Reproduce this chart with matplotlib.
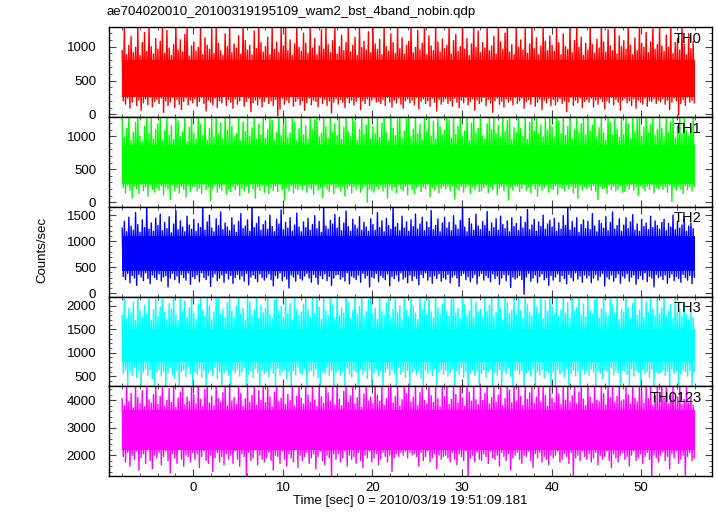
import numpy as np
import matplotlib
matplotlib.use('Agg')
import matplotlib.pyplot as plt
from matplotlib.ticker import MultipleLocator

plt.rcParams['font.family'] = ['Liberation Sans', 'DejaVu Sans']
plt.rcParams['font.size'] = 9.5

# light curve: per 0.25 s bin, peak (hi) and dip (lo)
t_start = -8.0
bin_width = 0.25

th0_hi = [940, 1300, 880, 1020, 1150, 910, 990, 1300, 870, 1060, 1210, 930, 1300, 1000, 890, 1120,
          960, 1080, 1300, 900, 1240, 980, 870, 1030, 1300, 950, 1100, 920, 1180, 1300, 860, 1010,
          1070, 930, 990, 1300, 880, 1130, 1020, 960, 1260, 900, 1300, 1050, 940, 870, 1190, 1000,
          1300, 910, 1040, 980, 1160, 890, 1300, 1090, 950, 1020, 880, 1230, 970, 1300, 1060, 920,
          1000, 1140, 880, 1300, 960, 1070, 910, 1280, 1010, 1300, 940, 1100, 870, 1040, 1300, 990,
          930, 1200, 1050, 900, 1300, 980, 1120, 880, 1010, 1250, 960, 1300, 1030, 910, 1090, 1300,
          890, 1000, 1170, 940, 1060, 1300, 920, 1020, 1140, 870, 1300, 990, 1080, 950, 1220, 910,
          1300, 1040, 960, 1110, 880, 1300, 1000, 930, 1190, 1060, 900, 1300, 970, 1130, 890, 1020,
          1080, 1300, 910, 990, 1240, 950, 1050, 1300, 880, 1160, 1010, 940, 1300, 1070, 920, 1110,
          970, 1020, 1300, 890, 1090, 1180, 930, 1000, 1300, 960, 1120, 870, 1040, 1300, 990, 1230,
          910, 1060, 980, 1300, 940, 1010, 1150, 890, 1300, 1070, 960, 1200, 1300, 920, 1030, 880,
          1300, 990, 1100, 950, 1270, 900, 1040, 1300, 970, 1130, 880, 1010, 1300, 1080, 940, 1160,
          1020, 930, 1300, 1060, 880, 1190, 1000, 960, 1300, 910, 1090, 1300, 990, 1140, 870, 1050,
          950, 1300, 1030, 900, 1110, 980, 1300, 1070, 920, 1250, 1010, 940, 1300, 890, 1160, 1000,
          1090, 960, 1300, 1020, 880, 1130, 940, 1300, 1050, 990, 1210, 910, 1070, 1300, 960, 1030,
          1300, 1010, 930, 1170, 990, 1300, 900, 1060, 1120, 950, 1300, 1040, 880, 1190, 970, 1080]
th0_lo = [200, 150, 240, 90, 180, 260, 130, 210, 60, 170, 230, 140, 250, 110, 190, 220,
          160, 240, 30, 200, 130, 180, 250, 100, 220, 150, 70, 190, 240, 140, 210, 170,
          230, 120, 190, 250, 160, 50, 210, 180, 140, 240, 100, 200, 170, 260, 130, 220,
          180, 90, 230, 150, 200, 260, 120, 190, 240, 40, 170, 210, 140, 230, 110, 190,
          250, 160, 200, 130, 220, -20, 80, 240, 150, 210, 170, 260, 120, 190, 230, 140,
          200, 60, 170, 240, 140, 210, 190, 110, 250, 160, 220, 130, 200, 20, 180, 230,
          150, 220, 180, 100, 240, 170, 210, 140, 190, 250, 70, 200, 160, 230, 130, 210,
          240, 180, 190, 160, 220, 130, 250, 180, 110, 210, 170, 240, 150, 90, 200, 230,
          170, 210, 140, 250, 80, 190, 230, 160, 200, 120, 240, 180, 50, 220, 150, 190,
          230, 160, 200, 120, 240, 180, 100, 210, 170, 250, 140, 190, 230, 60, 210, 160,
          190, 250, 130, 220, 170, 30, 200, 240, 150, 190, 110, 230, 180, 210, 140, 250,
          160, 200, 240, 90, 190, 220, 150, 260, 120, 180, 230, 70, 210, 170, 240, 130,
          220, 140, 190, 230, 160, 200, 40, 180, 250, 130, 210, 170, 240, 100, 190, 220,
          180, 240, 110, 210, 150, 230, 190, 80, 200, 170, 250, 140, 220, 180, 60, 210,
          240, 170, 200, 130, 230, 90, 210, 180, 150, 240, 120, 200, 190, 230, 160, 210,
          190, 230, 150, 210, 70, 180, 240, 200, -10, 160, 220, 130, 250, 180, 210, 170]

th1_hi = [1300, 980, 1120, 1300, 940, 1060, 1210, 1300, 1000, 920, 1150, 1300, 1040, 1270, 960, 1100,
          1190, 1300, 930, 1080, 1300, 1010, 1160, 950, 1300, 1230, 990, 1070, 1300, 920, 1140, 1300,
          1050, 960, 1300, 1180, 1010, 1300, 940, 1120, 1260, 980, 1300, 1030, 1200, 960, 1300, 1090,
          1300, 1150, 990, 1040, 1300, 930, 1220, 1070, 1300, 1000, 1130, 1300, 950, 1180, 1020, 1300,
          970, 1100, 1300, 1240, 940, 1060, 1300, 1010, 1170, 1300, 980, 1050, 1300, 1210, 930, 1120,
          1300, 1020, 1160, 960, 1300, 1090, 1250, 1300, 990, 1040, 1300, 1140, 970, 1300, 1060, 1190,
          1010, 1300, 950, 1130, 1300, 1070, 990, 1300, 1220, 940, 1100, 1300, 1030, 1170, 1300, 960,
          1150, 1040, 1300, 980, 1200, 1300, 1060, 930, 1300, 1120, 1010, 1260, 1300, 970, 1080, 1300,
          1300, 990, 1110, 1300, 1040, 1180, 950, 1300, 1070, 1300, 1000, 1230, 960, 1300, 1140, 1020,
          1090, 1300, 1250, 970, 1300, 1030, 1150, 1300, 990, 1080, 1300, 940, 1200, 1300, 1050, 1120,
          1300, 1010, 960, 1190, 1300, 1100, 1300, 1040, 1160, 980, 1300, 1070, 1240, 1300, 950, 1130,
          1060, 1300, 1120, 1000, 1300, 950, 1210, 1300, 1080, 1300, 1030, 1170, 990, 1300, 1090, 1300,
          1140, 980, 1300, 1230, 1040, 1300, 1010, 1150, 1300, 960, 1100, 1300, 1060, 1190, 1300, 1020,
          1300, 1080, 1170, 1300, 990, 1130, 1300, 1050, 940, 1300, 1210, 1020, 1300, 1110, 980, 1300,
          1030, 1300, 1190, 960, 1300, 1070, 1260, 1300, 1000, 1140, 1300, 1050, 1180, 1300, 1010, 1100,
          1300, 1120, 990, 1300, 1060, 1220, 1300, 970, 1150, 1300, 1040, 1300, 1090, 1010, 1170, 1300]
th1_lo = [220, 140, 260, 180, 60, 240, 200, 130, 270, 170, 230, 90, 250, 190, 150, 210,
          180, 250, 110, 230, 200, 40, 260, 170, 220, 140, 240, 190, 80, 250, 160, 230,
          240, 170, 210, 130, 270, 190, 230, 20, 200, 250, 150, 220, 180, 260, 120, 200,
          160, 230, 190, 250, 100, 210, 170, 240, 140, 270, 200, 60, 230, 180, 250, 150,
          250, 130, 220, 180, 240, 160, 270, 190, 30, 220, 170, 250, 140, 210, 190, 240,
          190, 260, 150, 230, 200, 120, 250, 180, 220, 70, 240, 200, 160, 260, 130, 220,
          230, 170, 240, 90, 210, 250, 140, 230, 190, 260, 150, 210, 240, 0, 200, 170,
          150, 240, 200, 260, 170, 220, 60, 250, 180, 230, 140, 260, 200, 170, 240, 110,
          260, 190, 130, 220, 250, 160, 230, 200, 270, 80, 220, 180, 250, 140, 210, 240,
          200, 240, 170, 250, 50, 210, 180, 240, 150, 220, 260, 130, 230, 190, 250, 160,
          170, 220, 250, 140, 230, 190, 270, 110, 210, 240, 170, 250, 30, 220, 180, 240,
          240, 160, 210, 260, 180, 230, 140, 250, 200, 90, 240, 180, 220, 260, 150, 210,
          190, 250, 120, 230, 210, 170, 260, 200, 240, 140, 220, 60, 250, 180, 230, 200,
          230, 180, 250, 160, 40, 240, 200, 220, 130, 260, 190, 240, 170, 210, 250, 150,
          160, 240, 200, 270, 180, 230, 100, 250, 210, 170, 240, 190, 260, 140, 220, 200,
          250, 190, 230, 150, 260, 10, 220, 180, 240, 200, 130, 250, 190, 230, 170, 240]

th2_hi = [1250, 1380, 1180, 1460, 1290, 1210, 1550, 1320, 1170, 1410, 1260, 1680, 1230, 1350, 1190, 1440,
          1300, 1520, 1200, 1360, 1240, 1470, 1160, 1330, 1590, 1220, 1390, 1270, 1180, 1480, 1310, 1230,
          1420, 1190, 1340, 1260, 1680, 1210, 1370, 1500, 1250, 1180, 1430, 1300, 1560, 1220, 1350, 1270,
          1200, 1450, 1310, 1170, 1380, 1530, 1240, 1290, 1410, 1190, 1680, 1260, 1340, 1470, 1210, 1320,
          1390, 1230, 1500, 1280, 1180, 1420, 1330, 1600, 1220, 1360, 1250, 1450, 1190, 1310, 1540, 1270,
          1180, 1370, 1260, 1440, 1210, 1320, 1490, 1240, 1380, 1170, 1680, 1290, 1230, 1400, 1330, 1510,
          1250, 1460, 1200, 1350, 1580, 1280, 1190, 1420, 1310, 1240, 1470, 1210, 1360, 1270, 1190, 1430,
          1320, 1210, 1550, 1260, 1390, 1180, 1440, 1300, 1230, 1680, 1270, 1340, 1200, 1480, 1250, 1370,
          1190, 1410, 1280, 1520, 1230, 1330, 1460, 1200, 1370, 1260, 1590, 1220, 1300, 1430, 1180, 1350,
          1460, 1250, 1360, 1200, 1490, 1310, 1230, 1400, 1680, 1270, 1180, 1440, 1330, 1210, 1520, 1290,
          1220, 1380, 1300, 1570, 1190, 1350, 1260, 1430, 1210, 1480, 1320, 1240, 1390, 1180, 1450, 1280,
          1340, 1200, 1470, 1250, 1360, 1610, 1220, 1310, 1420, 1190, 1370, 1280, 1500, 1230, 1330, 1400,
          1270, 1440, 1190, 1350, 1230, 1490, 1300, 1680, 1210, 1380, 1260, 1450, 1170, 1320, 1410, 1240,
          1380, 1220, 1530, 1290, 1180, 1400, 1340, 1250, 1470, 1200, 1360, 1560, 1230, 1300, 1430, 1190,
          1310, 1450, 1240, 1370, 1510, 1210, 1330, 1190, 1420, 1280, 1350, 1220, 1480, 1260, 1390, 1300,
          1230, 1360, 1420, 1200, 1340, 1270, 1500, 1220, 1380, 1250, 1310, 1450, 1190, 1290, 1350, 1240]
th2_lo = [320, 260, 380, 200, 340, 290, 150, 360, 310, 240, 390, 280, 180, 350, 300, 260,
          370, 230, 310, 340, 120, 290, 380, 260, 330, 200, 360, 300, 250, 390, 170, 320,
          280, 350, 220, 390, 300, 260, 340, 130, 310, 370, 240, 290, 350, 210, 380, 270,
          340, 190, 300, 360, 270, 330, 230, 380, 160, 310, 350, 280, 220, 370, 300, 250,
          300, 370, 260, 140, 340, 290, 390, 240, 320, 270, 100, 350, 310, 230, 360, 280,
          250, 330, 380, 290, 210, 360, 300, 170, 340, 280, 370, 240, 320, 150, 290, 350,
          360, 270, 310, 230, 390, 180, 330, 300, 260, 350, 210, 380, 290, 340, 120, 310,
          290, 380, 220, 340, 300, 260, 370, 140, 320, 280, 350, 230, 390, 270, 310, 200,
          350, 240, 330, 280, 160, 360, 300, 390, 250, 320, 190, 340, 280, 370, 230, 300,
          270, 360, 200, 310, 350, 290, 130, 340, 380, 260, 320, 220, 300, 360, 180, 330,
          380, 250, 340, 300, 220, 370, 280, 330, 170, 290, 360, 240, 350, 110, 310, 270,
          300, 340, 260, -20, 310, 380, 230, 290, 350, 200, 320, 370, 260, 300, 150, 340,
          250, 310, 370, 220, 340, 280, 180, 360, 300, 240, 390, 270, 330, 210, 350, 290,
          340, 200, 290, 360, 250, 320, 380, 140, 310, 270, 350, 230, 300, 370, 190, 330,
          290, 370, 230, 310, 350, 170, 280, 340, 260, 390, 220, 320, 290, 120, 360, 300,
          330, 260, 350, 190, 300, 370, 240, 320, 280, 210, 360, 300, 250, 340, 180, 310]

th3_hi = [1800, 2250, 1720, 1950, 1850, 2080, 1690, 2250, 1900, 1760, 2010, 1830, 2250, 1700, 1920, 2140,
          1780, 1980, 2250, 1860, 1710, 2050, 1940, 2250, 1820, 1680, 2250, 1890, 2100, 1750, 1960, 2250,
          1840, 1720, 2030, 2250, 1900, 1770, 2250, 1990, 1700, 1870, 2160, 2250, 1810, 1930, 1740, 2070,
          2250, 1880, 1760, 2000, 2250, 1830, 1950, 1690, 2250, 2090, 1800, 1910, 2250, 1730, 2020, 1860,
          1950, 2250, 1810, 1730, 2120, 2250, 1880, 1990, 1760, 2250, 1840, 2050, 1700, 2250, 1920, 1790,
          1870, 2040, 2250, 1920, 1750, 2250, 1830, 2180, 1970, 1710, 2250, 1890, 1800, 2250, 2010, 1740,
          2250, 1790, 1960, 1850, 2250, 2070, 1730, 1900, 2250, 1820, 1990, 2250, 1760, 1880, 2130, 2250,
          1830, 1950, 1720, 2250, 1890, 1800, 2060, 2250, 1740, 1930, 2250, 1850, 2000, 1700, 2250, 1910,
          1760, 2250, 1990, 1840, 1710, 2250, 1920, 2100, 1800, 2250, 1870, 1750, 2250, 1960, 1820, 2040,
          2250, 1880, 1780, 2150, 2250, 1850, 1940, 1720, 2250, 2020, 1800, 1900, 2250, 1760, 2080, 1870,
          1930, 1750, 2250, 1890, 2010, 2250, 1780, 1860, 2250, 1950, 1700, 2250, 2060, 1830, 1910, 2250,
          1810, 2250, 1900, 1740, 2250, 2030, 1860, 1790, 2250, 1970, 1840, 2250, 1720, 2110, 1880, 2250,
          1990, 1830, 2250, 1770, 1920, 2250, 1850, 2070, 1730, 2250, 1880, 1960, 2250, 1800, 2040, 1760,
          2250, 1900, 1820, 2120, 2250, 1750, 1940, 2250, 1860, 1790, 2250, 2000, 1840, 2250, 1710, 1930,
          1870, 2250, 1960, 1730, 2050, 2250, 1800, 1910, 2250, 1760, 2090, 1850, 2250, 1940, 1790, 2250,
          1830, 1960, 2250, 1780, 1890, 2030, 1740, 2250, 1860, 1920, 1770, 2060, 1810, 1700, 1880, 1750]
th3_lo = [560, 640, 280, 600, 520, 690, 470, 620, 280, 580, 660, 510, 630, 440, 280, 590,
          650, 500, 610, 280, 570, 680, 530, 460, 620, 280, 590, 640, 490, 700, 550, 280,
          600, 540, 660, 480, 610, 280, 570, 640, 510, 690, 450, 600, 280, 560, 630, 520,
          280, 620, 570, 650, 500, 590, 680, 280, 540, 610, 470, 660, 580, 280, 630, 550,
          610, 480, 640, 560, 280, 670, 520, 600, 650, 440, 590, 280, 620, 530, 690, 570,
          540, 660, 280, 590, 620, 500, 640, 460, 280, 600, 560, 680, 510, 630, 280, 580,
          630, 520, 600, 280, 670, 550, 480, 620, 590, 280, 650, 530, 610, 450, 640, 280,
          570, 640, 500, 610, 280, 580, 660, 520, 630, 560, 280, 690, 540, 600, 470, 620,
          280, 590, 650, 530, 600, 460, 280, 640, 570, 620, 510, 660, 280, 580, 630, 540,
          620, 500, 580, 660, 280, 610, 540, 690, 470, 600, 280, 570, 640, 520, 610, 280,
          560, 630, 470, 600, 650, 280, 580, 520, 640, 280, 600, 550, 680, 490, 280, 620,
          640, 540, 610, 280, 570, 620, 500, 660, 280, 590, 530, 640, 460, 610, 570, 280,
          590, 280, 640, 550, 600, 480, 670, 280, 560, 630, 510, 600, 280, 650, 540, 610,
          520, 650, 580, 280, 620, 560, 440, 640, 600, 280, 680, 530, 610, 570, 280, 630,
          610, 540, 280, 660, 500, 620, 580, 280, 640, 550, 600, 470, 650, 280, 590, 560,
          580, 630, 520, 600, 280, 650, 560, 610, 280, 540, 640, 590, 500, 620, 280, 600]

th0123_hi = [4050, 3800, 4550, 3950, 4250, 3720, 4550, 4100, 3880, 4350, 3760, 4550, 4020, 3900, 4200, 4550,
             3850, 4150, 4550, 3780, 4000, 4420, 3920, 4550, 3740, 4080, 4300, 4550, 3830, 4120, 3960, 4550,
             4200, 3870, 4550, 4030, 3760, 4400, 4550, 3900, 4150, 3800, 4550, 4060, 3930, 4280, 4550, 3790,
             4550, 3980, 4100, 3850, 4550, 4250, 3780, 4050, 4550, 3920, 4180, 4550, 3820, 4350, 4000, 4550,
             3910, 4550, 4120, 3760, 4300, 4550, 3950, 4070, 4550, 3840, 4220, 3990, 4550, 3780, 4150, 4550,
             4080, 3860, 4550, 4200, 3930, 4550, 4010, 3770, 4550, 4130, 3890, 4550, 4260, 3950, 4550, 3830,
             4550, 4040, 3800, 4330, 4550, 3920, 4160, 4550, 3860, 4090, 4550, 3750, 4230, 4550, 3970, 4110,
             3880, 4550, 4190, 3960, 4550, 3820, 4060, 4450, 4550, 3900, 4140, 4550, 3790, 4020, 4550, 4240,
             4550, 3940, 4110, 4550, 3810, 4280, 4550, 4000, 3870, 4550, 4170, 3920, 4550, 4050, 3760, 4550,
             4130, 4550, 3850, 4030, 4550, 4210, 3900, 4550, 4080, 3780, 4550, 4300, 3960, 4550, 4020, 3840,
             4550, 3990, 4250, 4550, 3870, 4100, 4550, 3930, 4190, 4550, 3800, 4060, 4550, 4370, 3910, 4550,
             3960, 4550, 4140, 3820, 4550, 4030, 4270, 4550, 3890, 4110, 4550, 3940, 4550, 4180, 3780, 4550,
             4070, 3910, 4550, 4230, 3850, 4550, 4000, 4550, 3930, 4160, 4550, 3870, 4300, 4550, 4040, 3800,
             4550, 4120, 3880, 4550, 4010, 3950, 4550, 4240, 3830, 4550, 4090, 4550, 3920, 4150, 4550, 3970,
             4020, 4550, 4200, 3860, 4550, 4080, 3940, 4550, 4310, 3890, 4550, 4050, 4550, 3810, 4170, 4550,
             3930, 4550, 4100, 4550, 3870, 4260, 4550, 3990, 4120, 4550, 3850, 4030, 4550, 3900, 4080, 3820]
th0123_lo = [1950, 1750, 2100, 1600, 2000, 1850, 2150, 1450, 1900, 2050, 1700, 2200, 1800, 1500, 2000, 1900,
             2100, 1650, 1950, 2150, 1800, 1350, 2050, 1900, 1700, 2200, 1850, 1600, 2000, 1950, 1750, 2100,
             1850, 2050, 1550, 1950, 2150, 1800, 1700, 2000, 1400, 1900, 2100, 1750, 1950, 1650, 2050, 1850,
             2000, 1700, 2150, 1850, 1600, 2050, 1950, 1200, 2100, 1800, 1900, 2200, 1650, 2000, 1850, 1750,
             1900, 2100, 1800, 1450, 2000, 1950, 1700, 2150, 1850, 1600, 2050, 1900, 1750, 2200, 1550, 2000,
             1800, 1950, 2100, 1700, 1900, 2050, 1500, 1950, 2150, 1800, 1650, 2000, 1900, 1200, 2050, 1850,
             2050, 1750, 1900, 2150, 1600, 2000, 1850, 1950, 1700, 2100, 1800, 1550, 2000, 1900, 2150, 1750,
             1900, 2050, 1650, 1850, 2100, 1950, 1750, 2000, 1400, 1900, 2050, 1950, 2100, 2000, 2150, 1900,
             2100, 2000, 2050, 1950, 1600, 2100, 1800, 1950, 2150, 1750, 1900, 2050, 1500, 2000, 1850, 1950,
             2000, 1900, 1750, 2100, 1850, 1650, 2050, 1950, 1800, 2150, 1200, 1900, 2000, 1750, 2100, 1850,
             1800, 2050, 1950, 1700, 2150, 1900, 1850, 2000, 1600, 2100, 1950, 1800, 2050, 1450, 1900, 2000,
             2100, 1850, 1700, 2000, 1950, 2150, 1800, 1550, 2050, 1900, 2100, 1750, 1950, 1850, 1650, 2000,
             1900, 2000, 2150, 1750, 1850, 2050, 1950, 1700, 2100, 1200, 1900, 2000, 1800, 2150, 1950, 1850,
             2050, 1750, 1900, 2100, 1650, 2000, 1850, 1950, 2150, 1800, 1550, 2050, 1900, 1750, 2000, 2100,
             1850, 1950, 1600, 2000, 2150, 1800, 1900, 2050, 1700, 1950, 2100, 1850, 1200, 2000, 1900, 1750,
             2000, 2100, 1800, 1950, 1500, 2050, 1900, 2150, 1700, 1850, 2000, 1200, 1950, 2100, 1800, 1900]

# solid middle of each band
core = {'TH0': (260, 800), 'TH1': (270, 860), 'TH2': (420, 1100),
        'TH3': (800, 1500), 'TH0123': (2200, 3650)}

names = ['TH0', 'TH1', 'TH2', 'TH3', 'TH0123']
his = [th0_hi, th1_hi, th2_hi, th3_hi, th0123_hi]
los = [th0_lo, th1_lo, th2_lo, th3_lo, th0123_lo]
colors = ['#ff0000', '#00ff00', '#0000ff', '#00ffff', '#ff00ff']
ylims = [(-40, 1285), (-70, 1290), (-65, 1660), (285, 2200), (1240, 4510)]
ymajor = [500, 500, 500, 500, 1000]
yminor = [100, 100, 100, 100, 200]

fig = plt.figure(figsize=(7.17, 5.16), dpi=100)
axes = fig.subplots(5, 1, sharex=True, gridspec_kw=dict(hspace=0))
fig.subplots_adjust(left=0.1516, right=0.993, top=0.947, bottom=0.0775)

for ax, name, hi, lo, c, yl, ma, mi in zip(axes, names, his, los, colors, ylims, ymajor, yminor):
    n = len(hi)
    t0 = t_start + bin_width * np.arange(n)
    x = np.column_stack([t0 + 0.05, t0 + 0.175]).ravel()
    y = np.column_stack([hi, lo]).ravel()
    ax.fill_between([t_start, t_start + bin_width * n], core[name][0], core[name][1],
                    color=c, lw=0)
    ax.plot(x, y, color=c, lw=1.0)
    ax.set_ylim(*yl)
    ax.yaxis.set_major_locator(MultipleLocator(ma))
    ax.yaxis.set_minor_locator(MultipleLocator(mi))
    ax.text(0.983, 0.95, name, transform=ax.transAxes, ha='right', va='top', fontsize=10.5)
    ax.tick_params(which='both', direction='in', top=True, right=True, color='#444444')
    ax.tick_params(which='major', length=5, width=0.8, pad=4)
    ax.tick_params(which='minor', length=2.5, width=0.6)
    ax.tick_params(axis='y', which='major', pad=9)
    for s in ax.spines.values():
        s.set_linewidth(1.0)

axes[-1].set_xlim(-9.45, 57.9)
axes[-1].xaxis.set_major_locator(MultipleLocator(10))
axes[-1].xaxis.set_minor_locator(MultipleLocator(2))
axes[-1].set_xlabel('Time [sec] 0 = 2010/03/19 19:51:09.181', labelpad=1)

fig.text(0.149, 0.977, 'ae704020010_20100319195109_wam2_bst_4band_nobin.qdp',
         ha='left', va='center')
fig.text(0.0586, 0.515, 'Counts/sec', rotation=90, ha='center', va='center')

fig.savefig('out.png', dpi=100)
